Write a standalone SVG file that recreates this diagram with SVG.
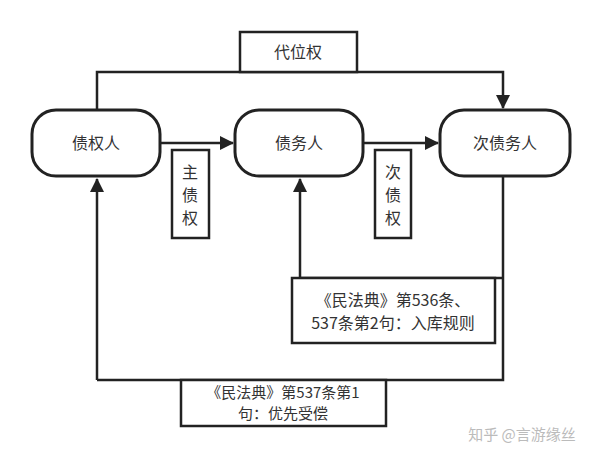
<svg xmlns="http://www.w3.org/2000/svg" width="600" height="458" viewBox="0 0 600 458">
<style>
.n{fill:#fff;stroke:#222;stroke-width:3}
.b{fill:#fff;stroke:#222;stroke-width:2.5}
.t{font-family:"Noto Sans CJK SC","Liberation Sans",sans-serif;font-size:16px;fill:#333;text-anchor:middle}
.l{fill:none;stroke:#222;stroke-width:2.5}
</style>
<defs><marker id="m" markerWidth="14" markerHeight="14" refX="13" refY="7" orient="auto" markerUnits="userSpaceOnUse" viewBox="0 0 14 14"><path d="M0,0L14,7L0,14z" fill="#222"/></marker></defs>
<rect width="600" height="458" fill="#fff"/>
<g id="connectors">
<path class="l" d="M97,110V72H503V108" marker-end="url(#m)"/>
<path class="l" d="M160,143H233" marker-end="url(#m)"/>
<path class="l" d="M363,143H438" marker-end="url(#m)"/>
<path class="l" d="M97,380V179" marker-end="url(#m)"/>
<path class="l" d="M300,278V179" marker-end="url(#m)"/>
<path class="l" d="M300,278H503"/>
<path class="l" d="M503,177V380H97"/>
</g>
<g id="daiweiquan"><rect class="b" x="240" y="32" width="117" height="40"/><text class="t" x="298" y="58">代位权</text></g>
<g id="zhaiquanren"><rect class="n" x="32" y="110" width="128" height="66" rx="24"/><text class="t" x="96" y="149">债权人</text></g>
<g id="zhaiwuren"><rect class="n" x="235" y="110" width="128" height="66" rx="24"/><text class="t" x="299" y="149">债务人</text></g>
<g id="cizhaiwuren"><rect class="n" x="440" y="110" width="130" height="66" rx="24"/><text class="t" x="505" y="149">次债务人</text></g>
<g id="zhuzhaiquan"><rect class="b" x="172" y="150" width="37" height="88"/><text class="t" x="190" y="178">主</text><text class="t" x="190" y="201">债</text><text class="t" x="190" y="224">权</text></g>
<g id="cizhaiquan"><rect class="b" x="375" y="150" width="36" height="88"/><text class="t" x="393" y="178">次</text><text class="t" x="393" y="201">债</text><text class="t" x="393" y="224">权</text></g>
<g id="rule1"><rect class="b" x="292" y="278" width="203" height="65"/><text class="t" x="393" y="306">《民法典》第536条、</text><text class="t" x="393" y="329">537条第2句：入库规则</text></g>
<g id="rule2"><rect class="b" x="181" y="380" width="205" height="46"/><text class="t" x="283" y="398" style="font-size:15px">《民法典》第537条第1</text><text class="t" x="283" y="419" style="font-size:15px">句：优先受偿</text></g>
<text x="522" y="440" style="font-family:'Noto Sans CJK SC',sans-serif;font-size:15px;fill:#bbb;text-anchor:middle">知乎 @言游缘丝</text>
</svg>
